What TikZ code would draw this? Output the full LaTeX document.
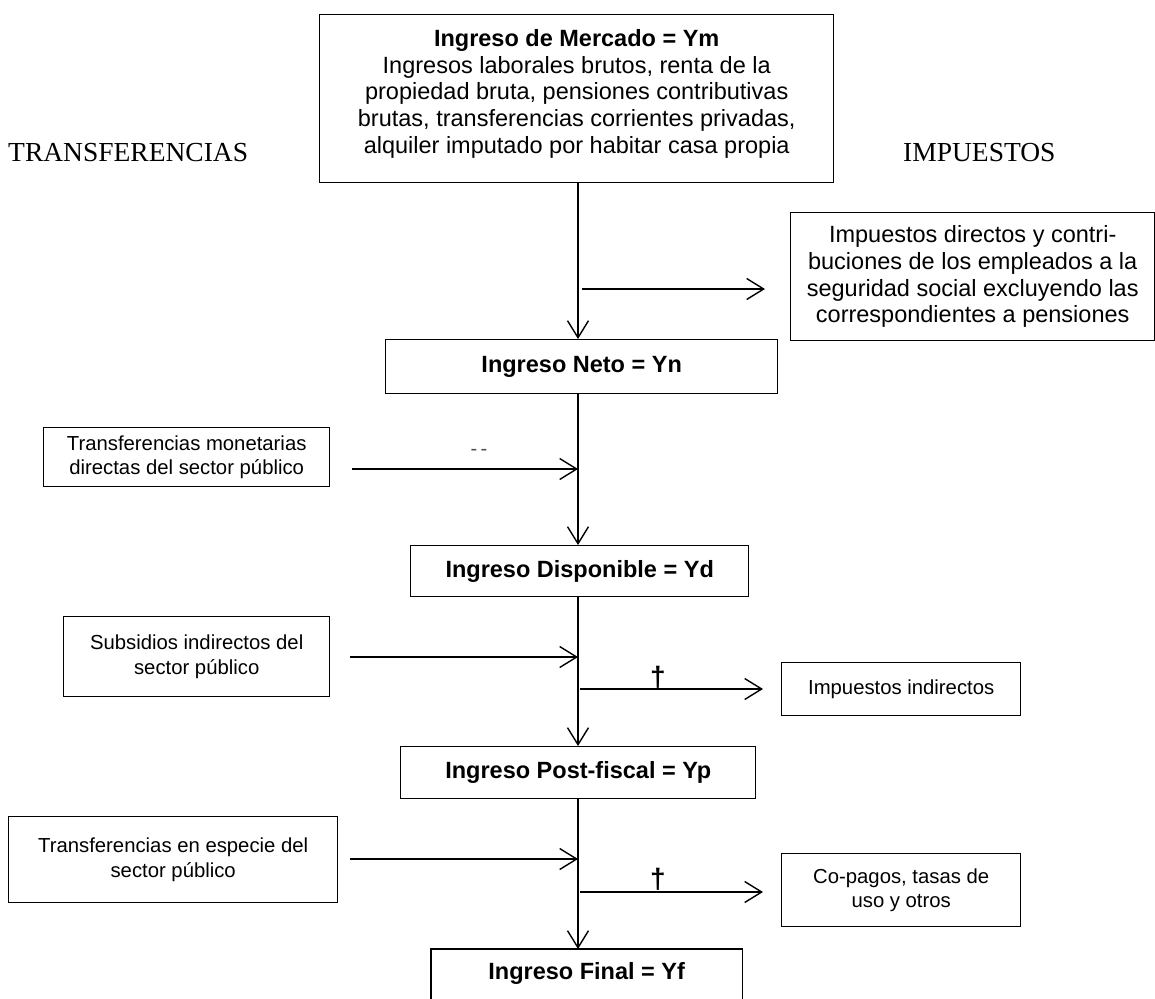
\documentclass[tikz,border=0pt]{standalone}
\usepackage{fontspec}
\setmainfont{Liberation Sans}
\newfontfamily\capsfont{Liberation Serif}
\usetikzlibrary{arrows.meta}
\begin{document}
\begin{tikzpicture}[x=1pt,y=-1pt,
  box/.style={draw, line width=1.4pt, align=center, inner sep=0pt, anchor=north west,
    font=\fontsize{23.5}{26.8}\selectfont},
  sbox/.style={box, font=\fontsize{20.3}{24.5}\selectfont},
  arr/.style={line width=1.4pt, -{Straight Barb[length=17pt,width=21pt,line width=1.4pt]}},
  side/.style={anchor=west, inner sep=0pt, font=\capsfont\fontsize{27.5}{28}\selectfont},
  sign/.style={inner sep=0pt, font=\fontsize{28}{30}\selectfont\bfseries}]
\useasboundingbox (0,0) rectangle (1155,998);

\node[box, minimum width=514, minimum height=168] (top) at (319,14)
  {\textbf{Ingreso de Mercado = Ym}\\Ingresos laborales brutos, renta de la\\propiedad bruta, pensiones contributivas\\brutas, transferencias corrientes privadas,\\alquiler imputado por habitar casa propia\\[-12pt]};
\node[side] (tr) at (8,153) {TRANSFERENCIAS};
\node[side] (im) at (903,153) {IMPUESTOS};

\node[box, minimum width=364, minimum height=128] (dir) at (790,212)
  {Impuestos directos y contri-\\buciones de los empleados a la\\seguridad social excluyendo las\\correspondientes a pensiones};
\node[box, minimum width=392, minimum height=54] (neto) at (385,339) {\textbf{Ingreso Neto = Yn}};
\node[sbox, minimum width=286, minimum height=59] (mon) at (43,427)
  {Transferencias monetarias\\directas del sector público};
\node[box, minimum width=338, minimum height=51] (disp) at (410,545) {\textbf{Ingreso Disponible = Yd}};
\node[sbox, minimum width=266, minimum height=80] (sub) at (63,616)
  {Subsidios indirectos del\\sector público};
\node[sbox, minimum width=239, minimum height=53] (ind) at (781,662) {Impuestos indirectos};
\node[box, minimum width=355, minimum height=52] (post) at (400,746) {\textbf{Ingreso Post-fiscal = Yp}};
\node[sbox, minimum width=329, minimum height=86] (esp) at (8,816)
  {Transferencias en especie del\\sector público};
\node[sbox, minimum width=239, minimum height=73] (cop) at (781,853)
  {Co-pagos, tasas de\\uso y otros};
\node[box, draw=none, minimum width=310, minimum height=48] (fin) at (431,949) {\textbf{Ingreso Final = Yf}};
\draw[line width=1.4pt] ([yshift=-30pt]fin.south west) -- (fin.north west) -- (fin.north east) -- ([yshift=-30pt]fin.south east);

\coordinate (sx) at (578,0);
\draw[arr] (top.south -| sx) -- (neto.north -| sx);
\draw[arr] (neto.south -| sx) -- (disp.north -| sx);
\draw[arr] (disp.south -| sx) -- (post.north -| sx);
\draw[arr] (post.south -| sx) -- (fin.north -| sx);

\coordinate (t1s) at (582,289);
\coordinate (t1e) at (765,289);
\draw[arr] (t1s) -- (t1e);

\coordinate (m1) at (352,469);
\draw[arr] (m1) -- (m1 -| sx);
\node[inner sep=0pt, text=black!70, font=\fontsize{20}{22}\selectfont] (dd) at (479,452) {-\,-};

\coordinate (s1) at (350,657);
\draw[arr] (s1) -- (s1 -| sx);
\coordinate (t2s) at (580,689);
\coordinate (t2e) at (763,689);
\draw[arr] (t2s) -- (t2e);
\node[sign] (p1) at (658,677) {†};

\coordinate (e1) at (350,859);
\draw[arr] (e1) -- (e1 -| sx);
\coordinate (t3s) at (580,892);
\coordinate (t3e) at (763,892);
\draw[arr] (t3s) -- (t3e);
\node[sign] (p2) at (658,879) {†};
\end{tikzpicture}
\end{document}
